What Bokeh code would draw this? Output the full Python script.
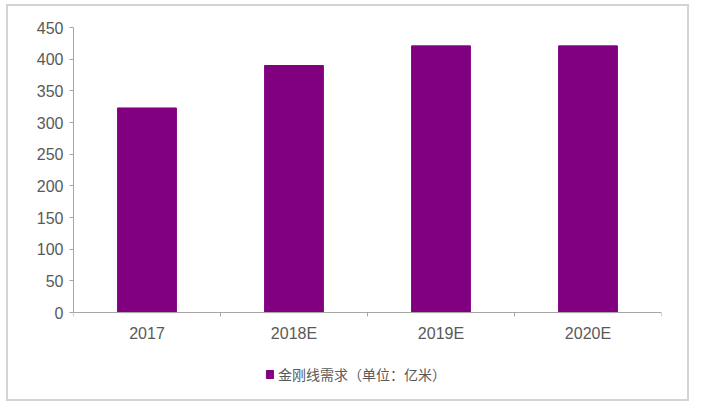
from bokeh.plotting import figure
from bokeh.models import ColumnDataSource, FixedTicker, Range1d, Legend, LegendItem
from bokeh.embed import file_html
from bokeh.resources import INLINE

categories = ["2017", "2018E", "2019E", "2020E"]
values = [323, 390, 421, 421]
series_name = "金刚线需求（单位：亿米）"
y_ticks = [0, 50, 100, 150, 200, 250, 300, 350, 400, 450]

xs = list(range(1, len(categories) + 1))
src = ColumnDataSource(dict(x=xs, top=values, cat=categories))

# frame extends below the value axis to hold the legend
p = figure(width=683, height=397, output_backend="svg", toolbar_location=None,
           x_range=Range1d(0.5, len(categories) + 0.5), y_range=Range1d(-140.4, 450),
           min_border_left=65, min_border_right=30, min_border_top=21, min_border_bottom=2)
p.styles = {"border": "2px solid #d4d4d4", "box-sizing": "border-box",
            "margin-left": "6px", "margin-top": "4px"}
p.outline_line_color = None
p.xgrid.visible = False
p.ygrid.visible = False

r = p.vbar(x="x", top="top", width=0.40, bottom=0, source=src,
           fill_color="#800080", line_color="#800080")

p.xaxis.fixed_location = 0
p.xaxis.ticker = FixedTicker(ticks=xs, minor_ticks=[i + 0.5 for i in range(len(categories) + 1)])
p.xaxis.major_label_overrides = {x: c for x, c in zip(xs, categories)}
p.xaxis.major_tick_line_color = None
p.xaxis.minor_tick_in = 0
p.xaxis.minor_tick_out = 4
p.xaxis.minor_tick_line_color = "#a6a6a6"
p.xaxis.axis_line_color = "#a6a6a6"
p.xaxis.major_label_standoff = 6

p.yaxis.ticker = FixedTicker(ticks=y_ticks, minor_ticks=[])
p.yaxis.bounds = (0, 450)
p.yaxis.major_tick_in = 0
p.yaxis.major_tick_out = 4
p.yaxis.major_tick_line_color = "#a6a6a6"
p.yaxis.axis_line_color = "#a6a6a6"
p.yaxis.major_label_standoff = 6

for ax in (p.xaxis, p.yaxis):
    ax.major_label_text_font = "Liberation Sans"
    ax.major_label_text_font_size = "16px"
    ax.major_label_text_color = "#595959"

legend = Legend(items=[LegendItem(label=series_name, renderers=[r])],
                location=(192, 17), orientation="horizontal",
                glyph_width=9, glyph_height=10, label_standoff=4,
                padding=0, margin=0, border_line_color=None, background_fill_alpha=0,
                label_text_font="Noto Sans CJK SC", label_text_font_size="14px",
                label_text_color="#595959")
p.add_layout(legend, "center")

open("out.html", "w").write(file_html(p, INLINE))
